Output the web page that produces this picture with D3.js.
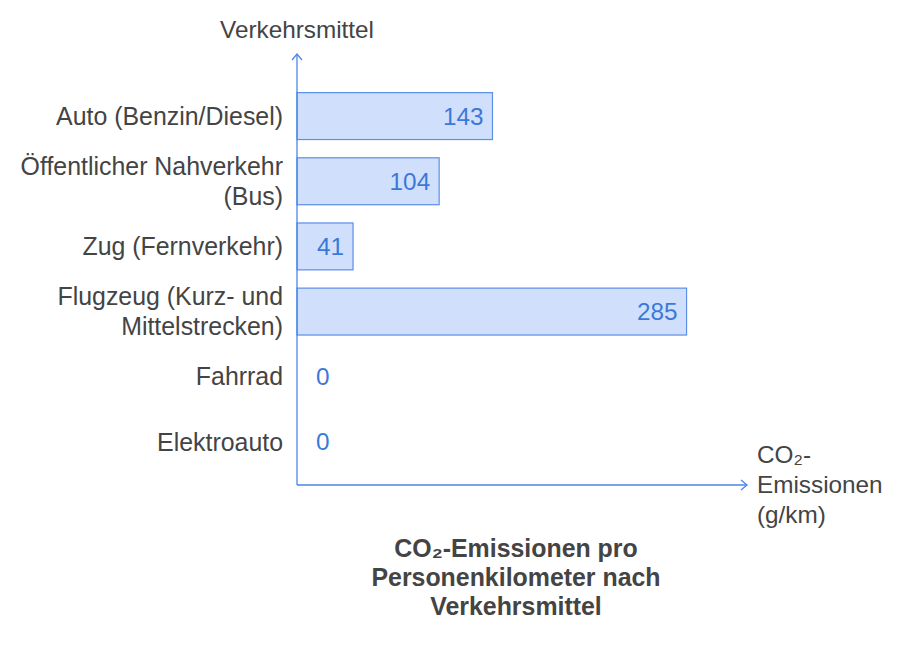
<!DOCTYPE html>
<html>
<head>
<meta charset="utf-8">
<script src="https://cdn.jsdelivr.net/npm/d3@7"></script>
<style>
  body { margin: 0; background: #fff; }
  text { font-family: "Liberation Sans", Arial, sans-serif; }
</style>
</head>
<body>
<div id="chart"></div>
<script>

var categories = [
    "Auto (Benzin/Diesel)",
    "Öffentlicher Nahverkehr (Bus)",
    "Zug (Fernverkehr)",
    "Flugzeug (Kurz- und Mittelstrecken)",
    "Fahrrad",
    "Elektroauto"
];
var emissions = [143, 104, 41, 285, 0, 0];

var yTitle = "Verkehrsmittel";
var xTitleLines = ["CO\u2082-", "Emissionen", "(g/km)"];
var chartTitle = "CO\u2082-Emissionen pro Personenkilometer nach Verkehrsmittel";

var outerWidth = 919, outerHeight = 658;
var axisColor = "#4a86e8", textColor = "#444";
var fontSize = 24.3, labelSize = 24.9;

var svg = d3.select("#chart")
    .append("svg")
    .attr("width", outerWidth)
    .attr("height", outerHeight);

var x0 = 297, x1 = 745, yTop = 54, yBottom = 485;

var x = d3.scaleLinear()
    .domain([0, d3.max(emissions) * 1.15])
    .range([x0, x1]);

var y = d3.scaleBand()
    .domain(categories)
    .range([83.5, 474.5])
    .paddingInner(0.28)
    .paddingOuter(0.14);

// wrap words into lines no wider than maxWidth
function wrap(textSel, str, maxWidth) {
    var words = str.split(" "), line = [], lines = [];
    var probe = textSel.append("tspan");
    words.forEach(function(w) {
        line.push(w);
        probe.text(line.join(" "));
        if (probe.node().getComputedTextLength() > maxWidth && line.length > 1) {
            line.pop();
            lines.push(line.join(" "));
            line = [w];
        }
    });
    lines.push(line.join(" "));
    probe.remove();
    return lines;
}

// bars
svg.selectAll("rect.bar")
    .data(emissions)
    .enter().append("rect")
    .attr("class", "bar")
    .attr("x", x(0))
    .attr("y", function(d, i) { return y(categories[i]); })
    .attr("width", function(d) { return x(d) - x(0); })
    .attr("height", y.bandwidth())
    .attr("fill", "#d0e0fc")
    .attr("stroke", "#5b8fe8")
    .attr("stroke-width", 1.2)
    .style("display", function(d) { return d > 0 ? null : "none"; });

// value labels
svg.selectAll("text.value")
    .data(emissions)
    .enter().append("text")
    .attr("class", "value")
    .attr("font-size", fontSize)
    .attr("fill", "#3c78d8")
    .attr("dy", "0.35em")
    .attr("y", function(d, i) { return y(categories[i]) + y.bandwidth() / 2; })
    .text(function(d) { return d; })
    .each(function(d) {
        var w = this.getComputedTextLength();
        var xe = Math.max(x(d) - 9, x(0) + 19 + w);
        d3.select(this).attr("x", xe).attr("text-anchor", "end");
    });

// category labels
categories.forEach(function(c) {
    var t = svg.append("text")
        .attr("font-size", labelSize)
        .attr("fill", textColor)
        .attr("text-anchor", "end");
    var lines = wrap(t, c, 275);
    var cy = y(c) + y.bandwidth() / 2;
    lines.forEach(function(l, k) {
        t.append("tspan")
            .attr("x", 283)
            .attr("y", cy + (k - (lines.length - 1) / 2) * 30)
            .attr("dy", "0.35em")
            .text(l);
    });
});

// axes with open arrowheads
var axes = svg.append("g")
    .attr("stroke", axisColor)
    .attr("stroke-width", 1.3)
    .attr("fill", "none");

axes.append("path").attr("d", d3.line()([[x0, yBottom], [x0, yTop]]));
axes.append("path").attr("d", d3.line()([[x0 - 5, yTop + 6], [x0, yTop], [x0 + 5, yTop + 6]]));
axes.append("path").attr("d", d3.line()([[x0, yBottom], [x1 + 2, yBottom]]));
axes.append("path").attr("d", d3.line()([[x1 - 4, yBottom - 5], [x1 + 2, yBottom], [x1 - 4, yBottom + 5]]));

// axis titles
svg.append("text")
    .attr("font-size", fontSize)
    .attr("fill", textColor)
    .attr("text-anchor", "middle")
    .attr("x", x0)
    .attr("y", 38)
    .text(yTitle);

var xt = svg.append("text")
    .attr("font-size", fontSize)
    .attr("fill", textColor);
xTitleLines.forEach(function(l, k) {
    xt.append("tspan")
        .attr("x", 757)
        .attr("y", 463 + k * 30)
        .text(l);
});

// chart title
var tt = svg.append("text")
    .attr("font-size", labelSize)
    .attr("font-weight", "bold")
    .attr("fill", textColor)
    .attr("text-anchor", "middle");
var titleLines = wrap(tt, chartTitle, 310);
titleLines.forEach(function(l, k) {
    tt.append("tspan")
        .attr("x", (x0 + x1) / 2 - 5)
        .attr("y", 557 + k * 29)
        .text(l);
});

</script>
</body>
</html>
